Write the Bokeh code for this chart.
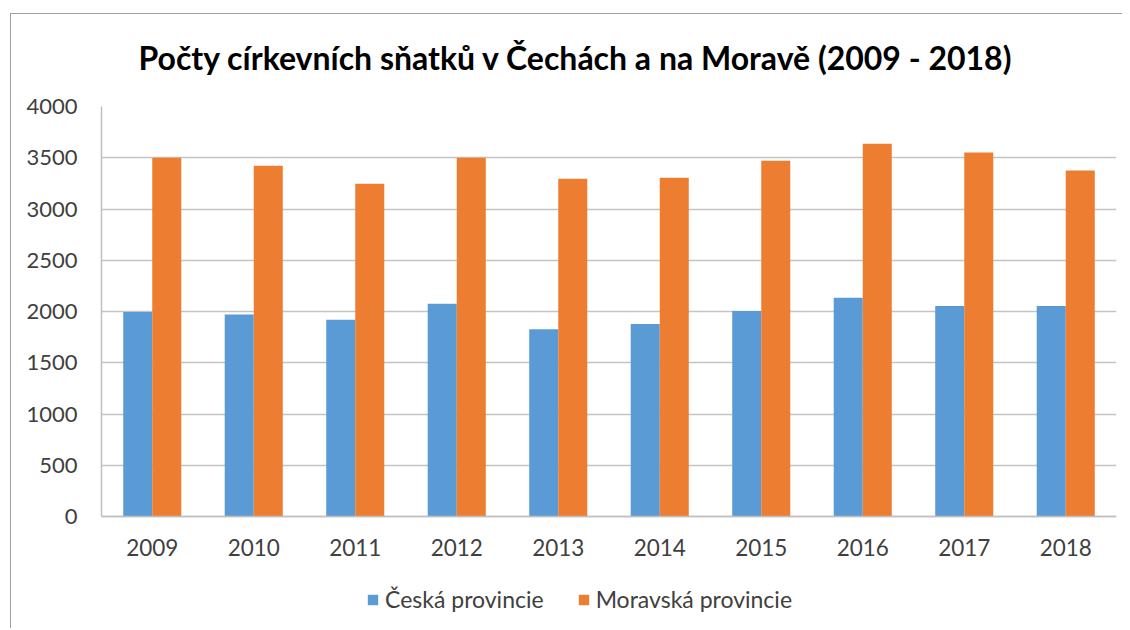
from bokeh.plotting import figure
from bokeh.models import (ColumnDataSource, FactorRange, Range1d, FixedTicker,
                          Legend, LegendItem, Title)
from bokeh.transform import dodge
from bokeh.embed import file_html
from bokeh.resources import INLINE

years = ["2009", "2010", "2011", "2012", "2013", "2014", "2015", "2016", "2017", "2018"]
ceska = [1995, 1972, 1920, 2076, 1826, 1878, 2005, 2135, 2054, 2054]
moravska = [3500, 3422, 3246, 3500, 3295, 3305, 3470, 3636, 3551, 3376]
y_ticks = [0, 500, 1000, 1500, 2000, 2500, 3000, 3500, 4000]
title_text = "Počty církevních sňatků v Čechách a na Moravě (2009 - 2018)"
series_names = ["Česká provincie", "Moravská provincie"]

BLUE = "#5B9BD5"
ORANGE = "#ED7D31"
FONT = "Lato"

src = ColumnDataSource(dict(year=years, ceska=ceska, moravska=moravska))

# the frame extends below zero to leave room for the year labels and legend
p = figure(width=1122, height=628,
           x_range=FactorRange(*years, range_padding=0, factor_padding=0),
           y_range=Range1d(-1073, 4000),
           output_backend="svg", toolbar_location=None,
           min_border_left=101, min_border_right=6,
           min_border_top=106, min_border_bottom=2,
           styles={"box-shadow": "inset 10px 13px 0 0 #ffffff, inset 11px 14px 0 0 #a0a0a0"})
p.outline_line_color = None
p.background_fill_color = "white"
p.border_fill_color = None

bw = 0.286
r1 = p.vbar(x=dodge("year", -bw / 2, range=p.x_range), top="ceska", width=bw,
            source=src, fill_color=BLUE, line_color=None)
r2 = p.vbar(x=dodge("year", bw / 2, range=p.x_range), top="moravska", width=bw,
            source=src, fill_color=ORANGE, line_color=None)

# axes
p.yaxis.ticker = FixedTicker(ticks=y_ticks)
p.yaxis.bounds = (0, 4000)
p.yaxis.major_tick_line_color = None
p.yaxis.minor_tick_line_color = None
p.yaxis.axis_line_color = "#bfbfbf"
p.yaxis.axis_line_width = 1.5
p.yaxis.major_label_text_font = FONT
p.yaxis.major_label_text_font_size = "22px"
p.yaxis.major_label_text_color = "#404040"
p.yaxis.major_label_standoff = 18

p.xaxis.fixed_location = 0
p.xaxis.major_tick_line_color = None
p.xaxis.axis_line_color = "#bfbfbf"
p.xaxis.axis_line_width = 1.5
p.xaxis.major_label_text_font = FONT
p.xaxis.major_label_text_font_size = "22.5px"
p.xaxis.major_label_text_color = "#404040"
p.xaxis.major_label_standoff = 16

p.xgrid.grid_line_color = None
p.ygrid.grid_line_color = "#c4c4c4"
p.ygrid.grid_line_width = 1.5

# title
title = Title(text=title_text, align="left", offset=37, standoff=60,
              text_font=FONT, text_font_style="bold", text_font_size="32px",
              text_color="#000000")
p.add_layout(title, "above")

legend = Legend(items=[LegendItem(label=series_names[0], renderers=[r1]),
                       LegendItem(label=series_names[1], renderers=[r2])],
                orientation="horizontal", location=(265, 13))
legend.border_line_color = None
legend.background_fill_alpha = 0
legend.padding = 0
legend.margin = 0
legend.spacing = 33
legend.glyph_width = 13
legend.glyph_height = 13
legend.label_standoff = 6
legend.label_text_font = FONT
legend.label_text_font_size = "23px"
legend.label_text_color = "#404040"
p.add_layout(legend, "center")

open("out.html", "w").write(file_html(p, INLINE))
